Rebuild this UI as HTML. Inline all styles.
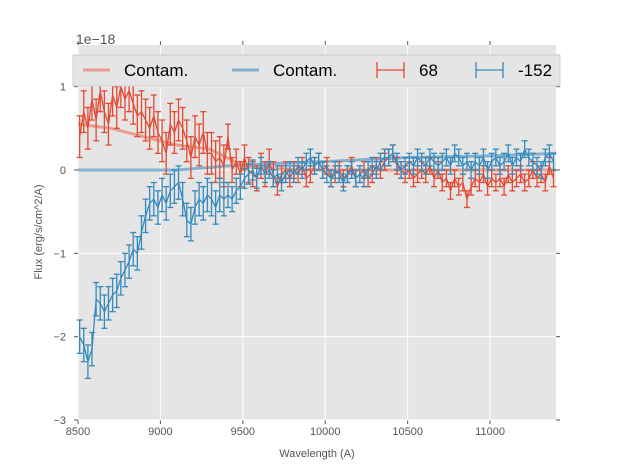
<!DOCTYPE html>
<html><head><meta charset="utf-8"><style>
body{margin:0;background:#fff;}
svg{display:block;font-family:"Liberation Sans",sans-serif;}
</style></head><body>
<svg id="chart" width="617" height="467" viewBox="0 0 617 467"></svg>
<script>
const xTicks=[8500,9000,9500,10000,10500,11000];
const yTicks=[-3,-2,-1,0,1];
const redFlux=[0.4,0.7,0.5,0.85,0.6,0.95,0.7,0.55,0.9,0.75,1.0,0.85,0.95,0.8,0.65,0.7,0.6,0.5,0.65,0.45,0.35,0.2,0.55,0.45,0.6,0.5,0.35,0.15,0.4,0.3,0.45,0.2,0.2,0.1,0.15,0.05,0.4,0.0,0.1,-0.05,0.15,0.0,-0.05,-0.1,0.05,-0.05,0.1,-0.05,-0.2,-0.05,0.0,-0.1,0.0,-0.05,0.05,-0.1,-0.05,0.05,0.1,0.0,0.05,-0.1,-0.05,0.0,-0.1,-0.05,0.05,-0.1,-0.05,0.0,-0.1,-0.05,0.05,0.0,0.1,0.15,0.2,0.05,0.0,-0.05,0.0,-0.1,-0.05,0.0,-0.05,0.05,-0.1,0.0,-0.15,-0.1,-0.25,-0.1,-0.2,-0.15,-0.35,-0.2,-0.1,-0.15,-0.05,-0.2,-0.1,-0.15,-0.1,-0.2,-0.05,-0.15,-0.1,-0.05,-0.15,-0.1,0.0,-0.1,-0.05,-0.15,0.05,-0.1];
const blueFlux=[-2.0,-2.1,-2.3,-2.15,-1.55,-1.6,-1.7,-1.6,-1.5,-1.45,-1.3,-1.2,-1.1,-0.95,-1.0,-0.75,-0.55,-0.4,-0.35,-0.45,-0.3,-0.4,-0.25,-0.2,-0.15,-0.35,-0.6,-0.65,-0.45,-0.35,-0.4,-0.3,-0.35,-0.45,-0.3,-0.35,-0.3,-0.35,-0.25,-0.2,-0.1,-0.05,0.0,-0.1,0.05,-0.05,0.0,-0.1,-0.05,-0.15,-0.05,0.0,-0.05,0.05,0.0,0.1,0.15,0.05,0.1,0.0,-0.05,-0.1,0.0,-0.05,-0.15,-0.05,0.0,-0.1,-0.05,-0.1,0.0,0.05,0.0,0.1,0.15,0.15,0.2,0.1,0.0,0.05,0.1,0.05,0.15,0.1,0.05,0.15,0.1,0.05,0.1,0.15,0.05,0.2,0.15,0.05,0.1,0.0,0.1,0.05,0.15,0.0,0.1,0.15,0.05,0.1,0.2,0.05,0.15,0.1,0.25,0.15,0.1,0.05,0.0,0.15,0.2,0.1];
const redErrGroups=[0.25,0.25,0.25,0.25,0.25,0.25,0.25,0.25,0.25,0.15,0.15,0.15,0.1,0.1,0.1,0.1,0.1,0.1,0.1,0.1,0.1,0.1,0.1,0.1,0.1,0.1,0.1,0.1,0.1];
const blueErrGroups=[0.2,0.2,0.2,0.2,0.2,0.2,0.2,0.2,0.2,0.15,0.12,0.1,0.1,0.1,0.1,0.1,0.1,0.1,0.1,0.1,0.1,0.1,0.1,0.1,0.1,0.1,0.1,0.1,0.1];
const contamX=[8500,8700,8900,9100,9300,9400,9450,9500,9600,10000,10500,11000,11400];
const contamRed=[0.55,0.5,0.4,0.3,0.25,0.15,0.1,0.05,0.02,0.0,0.0,0.0,0.0];
const contamBlue=[0.0,0.0,0.0,0.0,0.03,0.05,0.05,0.06,0.07,0.1,0.15,0.17,0.2];
const xStart=8510, xStep=25;

const NS="http://www.w3.org/2000/svg";
const svg=document.getElementById('chart');
const L=78,R=556,T=45,B=420;
const xs=v=>L+(v-8500)/(11400-8500)*(R-L);
const ys=v=>B-(v+3)/4.5*(B-T);
function mk(tag,attrs,parent){const e=document.createElementNS(NS,tag);for(const k in attrs)e.setAttribute(k,attrs[k]);(parent||svg).appendChild(e);return e;}

const bg=mk('rect',{x:L,y:T,width:R-L,height:B-T,fill:'#e5e5e5'});


xTicks.forEach(t=>{
  const g=mk('line',{x1:xs(t),x2:xs(t),y1:T,y2:B,stroke:'#fff','stroke-width':1});
  
  
  mk('line',{x1:xs(t),x2:xs(t),y1:B,y2:B+4,stroke:'#555'});
  mk('line',{x1:xs(t),x2:xs(t),y1:T,y2:T-4,stroke:'#555'});
  const lb=mk('text',{x:xs(t),y:B+15,'text-anchor':'middle','font-size':11,fill:'#555'});
  lb.textContent=t;
  
  
});
yTicks.forEach(t=>{
  const g=mk('line',{x1:L,x2:R,y1:ys(t),y2:ys(t),stroke:'#fff','stroke-width':1});
  
  
  mk('line',{x1:L-4,x2:L,y1:ys(t),y2:ys(t),stroke:'#555'});
  mk('line',{x1:R,x2:R+4,y1:ys(t),y2:ys(t),stroke:'#555'});
  const lb=mk('text',{x:L-12,y:ys(t)+4,'text-anchor':'end','font-size':11,fill:'#555'});
  lb.textContent=(t<0?'\u2212'+(-t):t);
  
  
});

function contam(arr,color,name){
  const p=mk('polyline',{points:contamX.map((x,i)=>xs(x)+','+ys(arr[i])).join(' '),fill:'none',stroke:color,'stroke-width':3,opacity:0.7});
  
  
}
contam(contamBlue,'#5a9ac8','contam-blue-line');
contam(contamRed,'#e8806a','contam-red-line');

function series(vals,errs,color,name){
  const g=mk('g',{stroke:color,'stroke-width':1.3,fill:'none'});
  
  
  const pts=[];
  vals.forEach((v,i)=>{
    const x=xs(xStart+i*xStep),e=errs[Math.floor(i/4)];
    const y1=ys(v+e),y2=ys(v-e);
    mk('line',{x1:x,x2:x,y1:y1,y2:y2},g);
    mk('line',{x1:x-3,x2:x+3,y1:y1,y2:y1},g);
    mk('line',{x1:x-3,x2:x+3,y1:y2,y2:y2},g);
    pts.push(x+','+ys(v));
  });
  mk('polyline',{points:pts.join(' ')},g);
}
series(redFlux,redErrGroups,'#e24a33','series-68');
series(blueFlux,blueErrGroups,'#348abd','series-minus-152');

// legend
const lg=mk('g',{});


mk('rect',{x:73,y:55,width:487,height:31,fill:'#e5e5e5',stroke:'#ccc'},lg);
function legLine(x,color,label,name){
  const e=mk('g',{},lg);
  
  
  mk('line',{x1:x,x2:x+27,y1:70,y2:70,stroke:color,'stroke-width':3,opacity:0.7},e);
  const t=mk('text',{x:x+41,y:76,'font-size':17,fill:'#000'},e);t.textContent=label;
}
function legErr(x,color,label,name){
  const e=mk('g',{stroke:color,'stroke-width':1.3},lg);
  
  
  mk('line',{x1:x,x2:x+27,y1:70,y2:70},e);
  mk('line',{x1:x,x2:x,y1:62,y2:78},e);
  mk('line',{x1:x+27,x2:x+27,y1:62,y2:78},e);
  const t=mk('text',{x:x+42,y:76,'font-size':17,fill:'#000',stroke:'none'},e);t.textContent=label;
}
legLine(83,'#e8806a','Contam.','legend-contam-red');
legLine(232,'#5a9ac8','Contam.','legend-contam-blue');
legErr(377,'#e24a33','68','legend-68');
legErr(476,'#348abd','-152','legend-minus-152');

const off=mk('text',{x:76,y:44,'font-size':14,fill:'#555'});off.textContent='1e\u221218';


const xl=mk('text',{x:(L+R)/2,y:457,'text-anchor':'middle','font-size':11,fill:'#555'});xl.textContent='Wavelength (A)';


const yl=mk('text',{x:0,y:0,'text-anchor':'middle','font-size':11,fill:'#555',transform:'translate(42,232) rotate(-90)'});yl.textContent='Flux (erg/s/cm^2/A)';


</script>
</body></html>
